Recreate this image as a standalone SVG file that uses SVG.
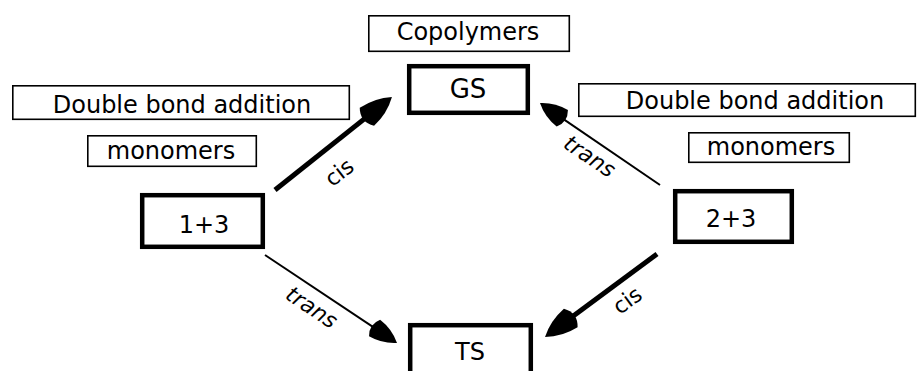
<svg xmlns="http://www.w3.org/2000/svg" width="919" height="371" viewBox="0 0 919 371">
<style>
.t{font-family:"DejaVu Sans","Liberation Sans",sans-serif;font-size:24px;text-anchor:middle;fill:#000}
.r{font-family:"DejaVu Sans","Liberation Sans",sans-serif;font-size:22px;text-anchor:middle;fill:#000}
.it{font-style:italic}
.lb{fill:#fff;stroke:#000;stroke-width:1.6}
.nb{fill:#fff;stroke:#000;stroke-width:4.5}
.thick{stroke:#000;stroke-width:5;fill:none}
.thin{stroke:#000;stroke-width:2;fill:none}
</style>
<defs>
<marker id="hk" markerUnits="userSpaceOnUse" viewBox="-42 -13 44 26" markerWidth="44" markerHeight="26" refX="-20" refY="0" orient="auto" overflow="visible">
<path d="M0,0 Q-14,-10 -32,-11.5 Q-41,0 -32,11.5 Q-14,10 0,0 Z" fill="#000"/>
</marker>
<marker id="hn" markerUnits="userSpaceOnUse" viewBox="-42 -13 44 26" markerWidth="44" markerHeight="26" refX="-20" refY="0" orient="auto" overflow="visible">
<path d="M0,0 Q-12,-9 -27,-10 Q-34,0 -27,10 Q-12,9 0,0 Z" fill="#000"/>
</marker>
</defs>
<rect width="919" height="371" fill="#fff"/>
<g id="copolymers"><rect class="lb" x="368.8" y="15.8" width="200.5" height="35.5"/><text class="t" x="468" y="40">Copolymers</text></g>
<g id="gs"><rect class="nb" x="409.2" y="66.2" width="118.6" height="46.6"/><text class="t" x="468" y="98" style="font-size:26px">GS</text></g>
<g id="dba-left"><rect class="lb" x="12.8" y="85.8" width="336.5" height="33.5"/><text class="t" x="182" y="113">Double bond addition</text></g>
<g id="mono-left"><rect class="lb" x="87.8" y="135.8" width="168.5" height="30.5"/><text class="t" x="171" y="159">monomers</text></g>
<g id="dba-right"><rect class="lb" x="578.8" y="83.8" width="336.5" height="32.5"/><text class="t" x="755" y="109">Double bond addition</text></g>
<g id="mono-right"><rect class="lb" x="688.8" y="132.8" width="160.5" height="29.5"/><text class="t" x="771" y="155">monomers</text></g>
<g id="n13"><rect class="nb" x="142.2" y="195.2" width="120.6" height="51.6"/><text class="t" x="204" y="233">1+3</text></g>
<g id="n23"><rect class="nb" x="675.2" y="191.2" width="116.6" height="50.6"/><text class="t" x="731" y="227">2+3</text></g>
<g id="ts"><rect class="nb" x="410.2" y="325.2" width="120.6" height="50"/><text class="t" x="470" y="360">TS</text></g>
<g id="connectors">
<line class="thick" x1="275" y1="190" x2="376.3" y2="109.4" marker-end="url(#hk)"/>
<line class="thin" x1="660" y1="185" x2="556.5" y2="114.3" marker-end="url(#hn)"/>
<line class="thin" x1="265" y1="255" x2="380.4" y2="331.9" marker-end="url(#hn)"/>
<line class="thick" x1="657" y1="254" x2="561.1" y2="325.1" marker-end="url(#hk)"/>
<text class="r" x="339" y="180" transform="rotate(-38 339 172)">cis</text>
<text class="r it" x="590" y="164" transform="rotate(34 590 156)">trans</text>
<text class="r it" x="312" y="315" transform="rotate(34 312 307)">trans</text>
<text class="r" x="627" y="308" transform="rotate(-36 627 300)">cis</text>
</g>
</svg>
